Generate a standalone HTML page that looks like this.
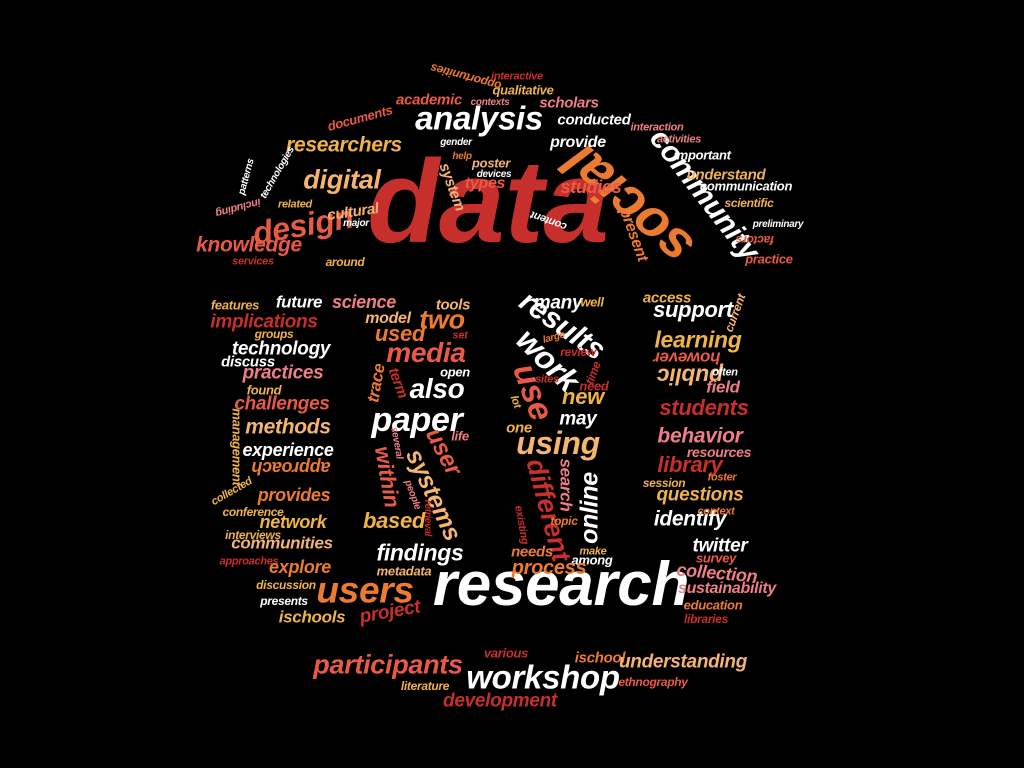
<!DOCTYPE html>
<html><head><meta charset="utf-8"><style>
html,body{margin:0;padding:0;background:#000;}
#cloud{position:relative;width:1024px;height:768px;overflow:hidden;background:#000;font-family:"Liberation Sans",sans-serif;font-weight:bold;font-style:italic;}
.w{position:absolute;white-space:nowrap;line-height:1;transform:translate(-50%,-50%) rotate(var(--r,0deg));letter-spacing:-0.3px;}
.R{color:#c62f2c}.O{color:#ec7a30}.G{color:#f0b24a}.L{color:#f5b570}.S{color:#e85a45}.P{color:#ef7f86}.W{color:#fff}
</style></head><body>
<div id="cloud">
<span class="w R" style="left:488px;top:202px;font-size:118px">data</span>
<span class="w W" style="left:561px;top:585px;font-size:62px">research</span>
<span class="w O" style="left:628px;top:205px;font-size:54px;--r:222deg">social</span>
<span class="w W" style="left:704px;top:195px;font-size:30px;--r:52deg">community</span>
<span class="w W" style="left:479px;top:118px;font-size:33px">analysis</span>
<span class="w L" style="left:342px;top:180px;font-size:27px">digital</span>
<span class="w S" style="left:303px;top:225px;font-size:32px;--r:-10deg">design</span>
<span class="w S" style="left:249px;top:245px;font-size:21px">knowledge</span>
<span class="w G" style="left:344px;top:145px;font-size:21px">researchers</span>
<span class="w O" style="left:466px;top:77px;font-size:12px;--r:195deg">opportunities</span>
<span class="w R" style="left:517px;top:77px;font-size:11px">interactive</span>
<span class="w G" style="left:523px;top:90px;font-size:13px">qualitative</span>
<span class="w S" style="left:429px;top:100px;font-size:15px">academic</span>
<span class="w P" style="left:490px;top:103px;font-size:10px">contexts</span>
<span class="w P" style="left:569px;top:103px;font-size:15px">scholars</span>
<span class="w S" style="left:360px;top:118px;font-size:13px;--r:-15deg">documents</span>
<span class="w W" style="left:594px;top:120px;font-size:15px">conducted</span>
<span class="w P" style="left:657px;top:128px;font-size:11px">interaction</span>
<span class="w P" style="left:679px;top:140px;font-size:11px">activities</span>
<span class="w W" style="left:578px;top:143px;font-size:16px">provide</span>
<span class="w W" style="left:456px;top:143px;font-size:10px">gender</span>
<span class="w O" style="left:462px;top:157px;font-size:10px">help</span>
<span class="w L" style="left:491px;top:163px;font-size:13px">poster</span>
<span class="w W" style="left:702px;top:155px;font-size:13px">important</span>
<span class="w L" style="left:452px;top:187px;font-size:15px;--r:70deg">system</span>
<span class="w W" style="left:494px;top:175px;font-size:10px">devices</span>
<span class="w S" style="left:485px;top:184px;font-size:16px">types</span>
<span class="w S" style="left:591px;top:187px;font-size:18px">studies</span>
<span class="w G" style="left:726px;top:175px;font-size:15px">understand</span>
<span class="w W" style="left:746px;top:186px;font-size:13px">communication</span>
<span class="w G" style="left:749px;top:203px;font-size:12px">scientific</span>
<span class="w O" style="left:633px;top:235px;font-size:16px;--r:70deg">present</span>
<span class="w W" style="left:549px;top:220px;font-size:11px;--r:-160deg">content</span>
<span class="w W" style="left:778px;top:225px;font-size:10px">preliminary</span>
<span class="w S" style="left:755px;top:240px;font-size:12px;--r:180deg">factors</span>
<span class="w S" style="left:769px;top:259px;font-size:13px">practice</span>
<span class="w L" style="left:353px;top:212px;font-size:15px;--r:-8deg">cultural</span>
<span class="w W" style="left:356px;top:224px;font-size:10px">major</span>
<span class="w G" style="left:295px;top:205px;font-size:11px">related</span>
<span class="w G" style="left:345px;top:262px;font-size:12px">around</span>
<span class="w R" style="left:253px;top:262px;font-size:11px">services</span>
<span class="w W" style="left:278px;top:173px;font-size:10px;--r:-60deg">technologies</span>
<span class="w W" style="left:247px;top:177px;font-size:10px;--r:-75deg">patterns</span>
<span class="w P" style="left:238px;top:207px;font-size:11px;--r:165deg">including</span>

<span class="w G" style="left:235px;top:305px;font-size:13px">features</span>
<span class="w W" style="left:299px;top:302px;font-size:17px">future</span>
<span class="w R" style="left:264px;top:322px;font-size:19px">implications</span>
<span class="w G" style="left:274px;top:334px;font-size:12px">groups</span>
<span class="w W" style="left:281px;top:349px;font-size:19px">technology</span>
<span class="w W" style="left:248px;top:362px;font-size:15px">discuss</span>
<span class="w P" style="left:283px;top:373px;font-size:19px">practices</span>
<span class="w G" style="left:264px;top:390px;font-size:13px">found</span>
<span class="w S" style="left:282px;top:404px;font-size:19px">challenges</span>
<span class="w L" style="left:288px;top:427px;font-size:21px">methods</span>
<span class="w G" style="left:237px;top:447px;font-size:13px;--r:90deg">management</span>
<span class="w W" style="left:288px;top:450px;font-size:18px">experience</span>
<span class="w O" style="left:291px;top:468px;font-size:18px;--r:180deg">approach</span>
<span class="w G" style="left:232px;top:492px;font-size:11px;--r:-30deg">collected</span>
<span class="w O" style="left:294px;top:495px;font-size:18px">provides</span>
<span class="w G" style="left:253px;top:512px;font-size:12px">conference</span>
<span class="w G" style="left:293px;top:522px;font-size:18px">network</span>
<span class="w G" style="left:253px;top:535px;font-size:12px">interviews</span>
<span class="w L" style="left:282px;top:543px;font-size:17px">communities</span>
<span class="w R" style="left:249px;top:562px;font-size:11px">approaches</span>
<span class="w O" style="left:300px;top:567px;font-size:18px">explore</span>
<span class="w G" style="left:286px;top:585px;font-size:12px">discussion</span>
<span class="w W" style="left:284px;top:601px;font-size:12px">presents</span>
<span class="w G" style="left:312px;top:617px;font-size:17px">ischools</span>
<span class="w R" style="left:390px;top:612px;font-size:19px;--r:-10deg">project</span>
<span class="w O" style="left:365px;top:590px;font-size:37px">users</span>

<span class="w P" style="left:364px;top:302px;font-size:18px">science</span>
<span class="w L" style="left:453px;top:305px;font-size:15px">tools</span>
<span class="w L" style="left:388px;top:319px;font-size:16px">model</span>
<span class="w O" style="left:442px;top:320px;font-size:27px">two</span>
<span class="w O" style="left:400px;top:334px;font-size:22px">used</span>
<span class="w R" style="left:460px;top:336px;font-size:11px">set</span>
<span class="w S" style="left:426px;top:353px;font-size:28px">media</span>
<span class="w W" style="left:455px;top:372px;font-size:13px">open</span>
<span class="w O" style="left:376px;top:383px;font-size:17px;--r:-80deg">trace</span>
<span class="w R" style="left:398px;top:383px;font-size:15px;--r:70deg">term</span>
<span class="w W" style="left:437px;top:389px;font-size:28px">also</span>
<span class="w W" style="left:417px;top:420px;font-size:34px">paper</span>
<span class="w P" style="left:460px;top:436px;font-size:13px">life</span>
<span class="w P" style="left:396px;top:443px;font-size:10px;--r:80deg">several</span>
<span class="w S" style="left:443px;top:452px;font-size:24px;--r:62deg">user</span>
<span class="w S" style="left:387px;top:477px;font-size:22px;--r:80deg">within</span>
<span class="w L" style="left:433px;top:495px;font-size:25px;--r:65deg">systems</span>
<span class="w P" style="left:412px;top:495px;font-size:10px;--r:70deg">people</span>
<span class="w R" style="left:427px;top:518px;font-size:10px;--r:90deg">retrieval</span>
<span class="w G" style="left:394px;top:521px;font-size:22px">based</span>
<span class="w W" style="left:420px;top:553px;font-size:23px">findings</span>
<span class="w L" style="left:404px;top:571px;font-size:13px">metadata</span>

<span class="w W" style="left:558px;top:303px;font-size:19px">many</span>
<span class="w G" style="left:592px;top:302px;font-size:13px">well</span>
<span class="w W" style="left:562px;top:326px;font-size:30px;--r:35deg">results</span>
<span class="w O" style="left:554px;top:338px;font-size:10px;--r:-15deg">large</span>
<span class="w W" style="left:548px;top:360px;font-size:32px;--r:45deg">work</span>
<span class="w R" style="left:578px;top:352px;font-size:12px">review</span>
<span class="w R" style="left:593px;top:373px;font-size:12px;--r:-70deg">time</span>
<span class="w R" style="left:547px;top:380px;font-size:11px">sites</span>
<span class="w R" style="left:594px;top:386px;font-size:13px">need</span>
<span class="w S" style="left:533px;top:392px;font-size:34px;--r:70deg">use</span>
<span class="w G" style="left:515px;top:402px;font-size:11px;--r:70deg">lot</span>
<span class="w G" style="left:583px;top:397px;font-size:22px">new</span>
<span class="w W" style="left:578px;top:419px;font-size:19px">may</span>
<span class="w G" style="left:519px;top:428px;font-size:15px">one</span>
<span class="w L" style="left:558px;top:443px;font-size:32px">using</span>
<span class="w R" style="left:548px;top:510px;font-size:27px;--r:75deg">different</span>
<span class="w P" style="left:566px;top:485px;font-size:17px;--r:90deg">search</span>
<span class="w W" style="left:590px;top:508px;font-size:25px;--r:-90deg">online</span>
<span class="w R" style="left:521px;top:525px;font-size:11px;--r:80deg">existing</span>
<span class="w O" style="left:564px;top:521px;font-size:12px">topic</span>
<span class="w O" style="left:532px;top:552px;font-size:15px">needs</span>
<span class="w G" style="left:593px;top:552px;font-size:11px">make</span>
<span class="w W" style="left:592px;top:560px;font-size:13px">among</span>
<span class="w O" style="left:549px;top:568px;font-size:20px">process</span>

<span class="w G" style="left:667px;top:298px;font-size:15px">access</span>
<span class="w L" style="left:735px;top:313px;font-size:12px;--r:-70deg">current</span>
<span class="w W" style="left:693px;top:310px;font-size:22px">support</span>
<span class="w G" style="left:698px;top:340px;font-size:23px">learning</span>
<span class="w S" style="left:687px;top:358px;font-size:17px;--r:180deg">however</span>
<span class="w L" style="left:690px;top:376px;font-size:23px;--r:180deg">public</span>
<span class="w W" style="left:725px;top:373px;font-size:11px">often</span>
<span class="w P" style="left:723px;top:387px;font-size:17px">field</span>
<span class="w R" style="left:704px;top:408px;font-size:22px">students</span>
<span class="w P" style="left:700px;top:436px;font-size:21px">behavior</span>
<span class="w P" style="left:719px;top:452px;font-size:14px">resources</span>
<span class="w R" style="left:690px;top:465px;font-size:22px">library</span>
<span class="w G" style="left:664px;top:483px;font-size:12px">session</span>
<span class="w O" style="left:722px;top:478px;font-size:11px">foster</span>
<span class="w G" style="left:700px;top:495px;font-size:19px">questions</span>
<span class="w W" style="left:690px;top:519px;font-size:21px">identify</span>
<span class="w O" style="left:716px;top:512px;font-size:11px">context</span>
<span class="w W" style="left:720px;top:546px;font-size:19px">twitter</span>
<span class="w S" style="left:716px;top:558px;font-size:13px">survey</span>
<span class="w P" style="left:717px;top:573px;font-size:18px;--r:5deg">collection</span>
<span class="w P" style="left:727px;top:589px;font-size:16px">sustainability</span>
<span class="w O" style="left:713px;top:605px;font-size:13px">education</span>
<span class="w R" style="left:706px;top:619px;font-size:12px">libraries</span>

<span class="w S" style="left:388px;top:665px;font-size:27px">participants</span>
<span class="w R" style="left:506px;top:653px;font-size:13px">various</span>
<span class="w W" style="left:543px;top:677px;font-size:33px">workshop</span>
<span class="w O" style="left:600px;top:658px;font-size:15px">ischool</span>
<span class="w L" style="left:683px;top:662px;font-size:19px">understanding</span>
<span class="w G" style="left:425px;top:686px;font-size:12px">literature</span>
<span class="w S" style="left:653px;top:682px;font-size:12px">ethnography</span>
<span class="w R" style="left:500px;top:701px;font-size:19px">development</span>
</div>
</body></html>
